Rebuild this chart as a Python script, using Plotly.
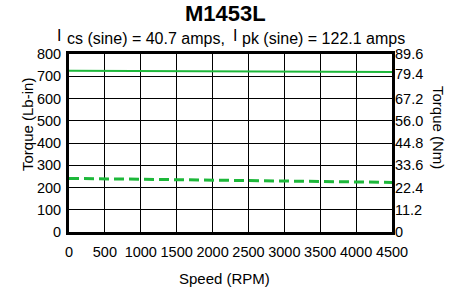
import plotly.graph_objects as go

speed = [0, 500, 1000, 1500, 2000, 2500, 3000, 3500, 4000, 4500]
cont_torque = [725, 724.5, 724, 723.5, 723, 722, 721.5, 721, 720, 719]
peak_torque = [241, 239, 237, 235, 233, 231, 229, 227, 225, 223]
x_ticks = [0, 500, 1000, 1500, 2000, 2500, 3000, 3500, 4000, 4500]
y_ticks = [0, 100, 200, 300, 400, 500, 600, 700, 800]
nm_ticks = [0, 11.2, 22.4, 33.6, 44.8, 56.0, 67.2, 79.4, 89.6]
nm_labels = ["0", "11.2", "22.4", "33.6", "44.8", "56.0", "67.2", "79.4", "89.6"]

FONT = "Liberation Sans, Arial, sans-serif"
GREEN = "#1db83a"
TICK = 14.5
LBL = 15
SUB = 16

fig = go.Figure()
fig.add_trace(go.Scatter(x=speed, y=cont_torque, mode="lines",
                         line=dict(color=GREEN, width=2), showlegend=False))
fig.add_trace(go.Scatter(x=speed, y=peak_torque, mode="lines",
                         line=dict(color=GREEN, width=3, dash="10px,5px"), showlegend=False))
fig.add_trace(go.Scatter(x=[0], y=[0], yaxis="y2", mode="markers",
                         marker=dict(opacity=0), showlegend=False, hoverinfo="skip"))

W, H = 449, 293
# plot area in page pixels: x 69..392, y 54..232
L, T = 69, 54
R = W - 392
B = H - 232

def ann(text, px, py, size, xanchor="left", yanchor="bottom", angle=0, bold=False):
    return dict(text=("<b>%s</b>" % text) if bold else text,
                x=0, y=1, xref="paper", yref="paper",
                xshift=px - L, yshift=T - py,
                xanchor=xanchor, yanchor=yanchor, showarrow=False, textangle=angle,
                font=dict(size=size, family=FONT, color="black"))

fig.update_layout(
    width=W, height=H,
    margin=dict(l=L, r=R, t=T, b=B, autoexpand=False),
    paper_bgcolor="white", plot_bgcolor="white",
    font=dict(family=FONT, size=TICK, color="black"),
    xaxis=dict(range=[0, 4500], tickvals=x_ticks, showgrid=True, gridcolor="black",
               gridwidth=1, showline=True, linecolor="black", linewidth=3, mirror=True,
               ticks="", zeroline=False, ticklabelstandoff=5, automargin=False),
    yaxis=dict(range=[0, 800], tickvals=y_ticks, showgrid=True, gridcolor="black",
               gridwidth=1, showline=True, linecolor="black", linewidth=3, mirror=True,
               ticks="", zeroline=False, ticklabelstandoff=2, automargin=False),
    yaxis2=dict(range=[0, 89.6], tickvals=nm_ticks, ticktext=nm_labels, overlaying="y",
                side="right", showgrid=False, showline=False, ticks="", zeroline=False,
                ticklabelstandoff=2, automargin=False),
    annotations=[
        ann("M1453L", 225, 28, 22, xanchor="center", bold=True),
        ann("I", 55, 46, SUB),
        ann("cs (sine) = 40.7 amps,", 65, 49, SUB),
        ann("I", 231, 46, SUB),
        ann("pk (sine) = 122.1 amps", 240, 49, SUB),
        ann("Torque (Lb-in)", 27, 125, LBL, xanchor="center", yanchor="middle", angle=-90),
        ann("Torque (Nm)", 439, 127, LBL, xanchor="center", yanchor="middle", angle=90),
        ann("Speed (RPM)", 224, 278, LBL, xanchor="center", yanchor="middle"),
    ],
)

fig.write_html("out.html", config={"displayModeBar": False},
               post_script="document.body.style.margin='0';")
